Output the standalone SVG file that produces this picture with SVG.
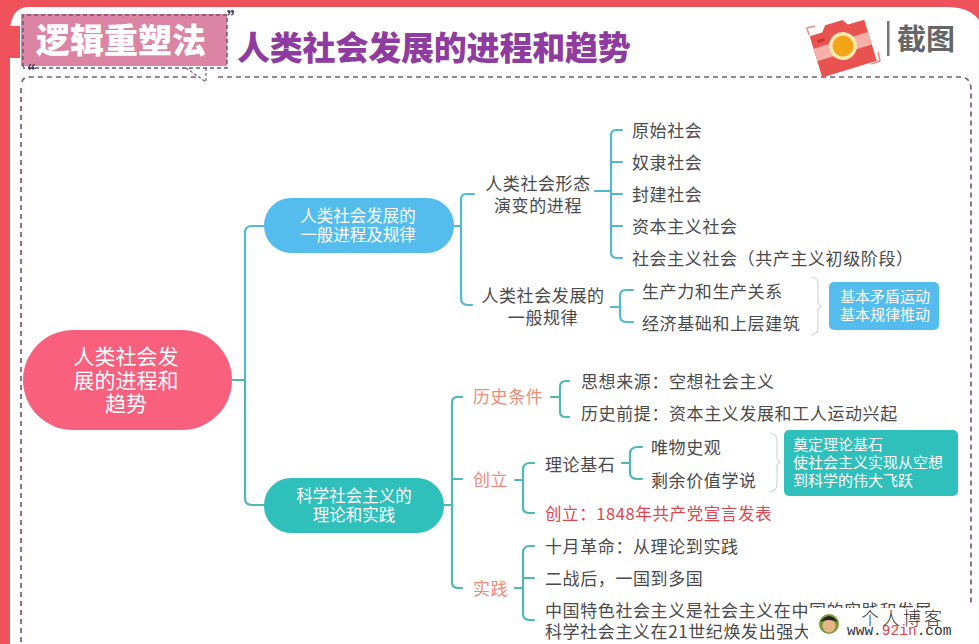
<svg xmlns="http://www.w3.org/2000/svg" width="979" height="644" viewBox="0 0 979 644">
<style>
text{font-family:"Noto Sans CJK SC","Noto Sans",sans-serif}
.t{font-size:17px;fill:#4a4a4a;letter-spacing:.6px;transform:translateY(1px)}
.m{text-anchor:middle}
.w{fill:#fff}
.o{font-size:17px;fill:#ee8a78;letter-spacing:.6px;transform:translateY(1px)}
.blue{fill:none;stroke:#52b9cf;stroke-width:2.2;stroke-linecap:round;stroke-linejoin:round}
.teal{fill:none;stroke:#4db8b4;stroke-width:2.2;stroke-linecap:round;stroke-linejoin:round}
.thin{fill:none;stroke:#cfd8d8;stroke-width:1.2}
</style>
<rect width="979" height="644" fill="#fff"/>
<g id="frame">
<path d="M0 0H979V20Q970 8 950 7H28Q11 8 10 30V644H0Z" fill="#f0525c"/>
<path d="M10 26H20V58H10Z" fill="#f0525c"/>
<path d="M22 82Q23 77 30 77H200M218 77H962Q971 78 971 90V606M21 88V644" fill="none" stroke="#7a5a80" stroke-width="1.7" stroke-dasharray="5 4"/>
<path d="M186 68L206 82M206 68V82" fill="none" stroke="#6b5a70" stroke-width="1.2" stroke-dasharray="3 2"/>
</g>
<g id="title">
<rect x="21" y="14" width="206" height="52" fill="#dc84a3"/>
<path d="M23 67V15H227V68H23" fill="none" stroke="#6b5a70" stroke-width="1.500" stroke-dasharray="4 3"/>
<text x="36" y="53" font-size="34" font-weight="900" fill="#fff">逻辑重塑法</text>
<text x="227" y="25" font-size="17" font-weight="900" fill="#4a3a50">”</text>
<text x="18" y="79" font-size="17" font-weight="900" fill="#4a3a50">“</text>
<text x="237" y="60" font-size="33" font-weight="900" fill="#8f3ca0" letter-spacing="-.2">人类社会发展的进程和趋势</text>
</g>
<g id="camera">
<g transform="rotate(-17 843 46)">
<path d="M814 27H827L832 21H850L854 27H871V70H814Z" fill="#e8534f"/>
<rect x="814" y="40" width="57" height="13" fill="#f8b0a8"/>
<rect x="820" y="33" width="7" height="3" fill="#c8322f"/>
<circle cx="843" cy="46" r="14" fill="#fde9b0"/>
<circle cx="843" cy="46" r="10.500" fill="#f2a516"/>
</g>
<path d="M809 35L807 28L815 26M878 52L880 61L871 64" fill="none" stroke="#e88a85" stroke-width="1.5"/>
<rect x="887" y="21" width="2.500" height="35" fill="#777"/>
<text x="897" y="50" font-size="29" font-weight="700" fill="#666">截图</text>
</g>
<g id="connectors">
<path class="blue" d="M245 380V233Q245 226 252 226H264"/>
<path class="teal" d="M232 380H245V498Q245 505 252 505H264"/>
<path class="blue" d="M454 226H461"/>
<path class="blue" d="M474 194H466Q461 194 461 200V298Q461 305 468 305H472"/>
<path class="blue" d="M595 191H610M622 130H616Q611 130 611 136V252Q611 258 617 258H622M611 162H622M611 194H622M611 226H622"/>
<path class="blue" d="M611 307H620M633 290H626Q620 290 620 296V315Q620 322 626 322H633"/>
<path class="thin" d="M811 277Q818 278 818 284V303L821 306L818 309V328Q818 334 811 335"/>
<path class="teal" d="M444 505H452M462 397H457Q452 397 452 403V582Q452 588 458 588H462M452 479H462"/>
<path class="teal" d="M551 397H560M569 381H566Q560 381 560 387V412Q560 417 566 417H569"/>
<path class="teal" d="M515 480H523M534 463H530Q523 463 523 470V508Q523 513 530 513H534"/>
<path class="teal" d="M622 463H630M642 447H638Q630 447 630 454V473Q630 479 638 479H642"/>
<path class="teal" d="M515 588H523M534 546H530Q523 546 523 553V614Q523 620 530 620H534M523 578H534"/>
<path class="thin" d="M770 433Q777 434 777 440V459L780 462L777 465V484Q777 491 770 492"/>
</g>
<g id="root"><rect x="23" y="330" width="209" height="100" rx="50" fill="#f8607e"/>
<text class="m w" x="126" y="364" font-size="21">人类社会发</text><text class="m w" x="126" y="388" font-size="21">展的进程和</text><text class="m w" x="126" y="411" font-size="21">趋势</text></g>
<g id="n1"><rect x="264" y="198" width="190" height="55" rx="27" fill="#55bdee"/>
<text class="m w" x="358" y="222" font-size="16.500">人类社会发展的</text><text class="m w" x="358" y="241" font-size="16.500">一般进程及规律</text></g>
<g id="n2"><rect x="264" y="478" width="180" height="55" rx="27" fill="#2fc0bc"/>
<text class="m w" x="354" y="502" font-size="16.500">科学社会主义的</text><text class="m w" x="354" y="521" font-size="16.500">理论和实践</text></g>
<g id="l1"><text class="t m" x="538" y="189">人类社会形态</text><text class="t m" x="538" y="211">演变的进程</text></g>
<g id="l2"><text class="t" x="632" y="136">原始社会</text></g>
<g id="l3"><text class="t" x="632" y="168">奴隶社会</text></g>
<g id="l4"><text class="t" x="632" y="200">封建社会</text></g>
<g id="l5"><text class="t" x="632" y="232">资本主义社会</text></g>
<g id="l6"><text class="t" x="632" y="264">社会主义社会（共产主义初级阶段）</text></g>
<g id="l7"><text class="t m" x="543" y="301">人类社会发展的</text><text class="t m" x="543" y="323">一般规律</text></g>
<g id="l8"><text class="t" x="642" y="297">生产力和生产关系</text></g>
<g id="l9"><text class="t" x="642" y="329">经济基础和上层建筑</text></g>
<g id="b1"><rect x="829" y="282" width="110" height="48" rx="5" fill="#55bdee"/>
<text class="m w" x="885" y="302" font-size="15">基本矛盾运动</text><text class="m w" x="885" y="320" font-size="15">基本规律推动</text></g>
<g id="h1"><text class="o" x="473" y="402">历史条件</text></g>
<g id="h2"><text class="t" x="581" y="387">思想来源：空想社会主义</text></g>
<g id="h3"><text class="t" x="581" y="419">历史前提：资本主义发展和工人运动兴起</text></g>
<g id="c1"><text class="o" x="473" y="485">创立</text></g>
<g id="c2"><text class="t" x="545" y="470">理论基石</text></g>
<g id="c3"><text class="t" x="651" y="453">唯物史观</text></g>
<g id="c4"><text class="t" x="651" y="486">剩余价值学说</text></g>
<g id="b2"><rect x="784" y="430" width="174" height="66" rx="5" fill="#2fc0bc"/>
<text class="w" x="793" y="450" font-size="15">奠定理论基石</text><text class="w" x="793" y="468" font-size="15">使社会主义实现从空想</text><text class="w" x="793" y="486" font-size="15">到科学的伟大飞跃</text></g>
<g id="c5"><text x="545" y="520" font-size="16.500" fill="#e0464f" letter-spacing=".6">创立：1848年共产党宣言发表</text></g>
<g id="s1"><text class="o" x="473" y="594">实践</text></g>
<g id="s2"><text class="t" x="545" y="552">十月革命：从理论到实践</text></g>
<g id="s3"><text class="t" x="545" y="584">二战后，一国到多国</text></g>
<g id="s4"><text class="t" x="545" y="616">中国特色社会主义是社会主义在中国的实践和发展</text></g>
<g id="s5"><text class="t" x="545" y="637">科学社会主义在21世纪焕发出强大</text></g>
<g id="watermark"><rect x="808" y="608" width="171" height="36" fill="#fff"/>
<circle cx="829" cy="624" r="10" fill="#7a9a3a"/><circle cx="829" cy="626" r="6.500" fill="#e8b48a"/><path d="M820 622Q829 610 838 622Q829 618 820 622Z" fill="#222"/>
<text x="861" y="625" font-size="18" font-weight="300" letter-spacing="3" fill="#333">个人博客</text>
<text x="847" y="635" font-size="14.500" style="font-family:'Liberation Mono',monospace" fill="#333">www.<tspan fill="#d9434a">92in</tspan>.com</text></g>
</svg>
